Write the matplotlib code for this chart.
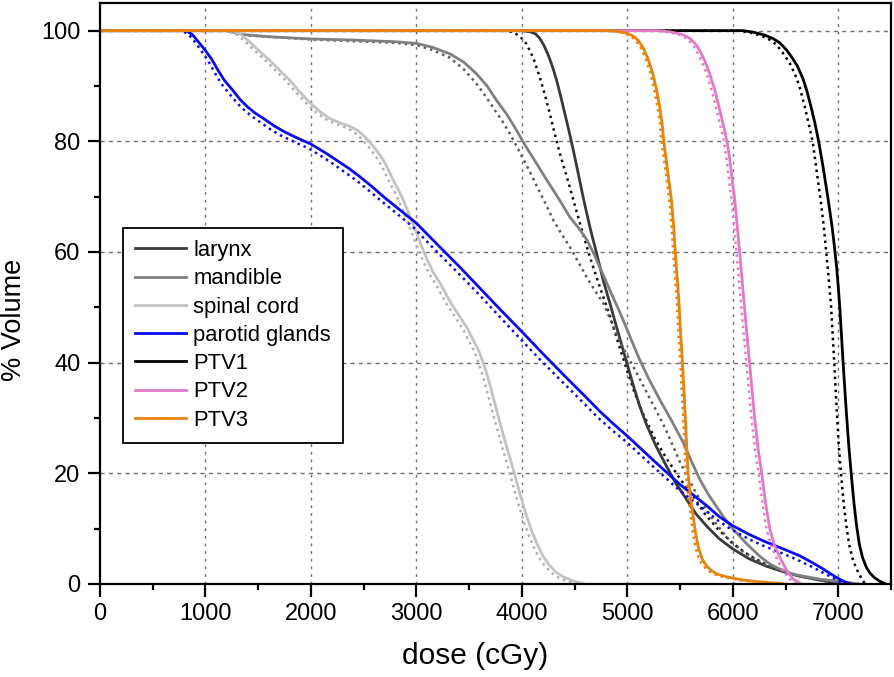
import matplotlib
matplotlib.use("Agg")
import matplotlib.pyplot as plt
from matplotlib.ticker import MultipleLocator

plt.rcParams['font.family'] = ['Liberation Sans', 'DejaVu Sans']

# dose (cGy) / % volume; solid = plan A, dotted = plan B
larynx_x = [0, 4000, 4080, 4130, 4170, 4210, 4250, 4290, 4330, 4370, 4410, 4450, 4490, 4530,
            4581, 4645, 4708, 4771, 4834, 4897, 4960, 5010, 5055, 5120, 5182, 5270, 5371,
            5460, 5561, 5650, 5750, 5870, 6003, 6150, 6319, 6480, 6635, 6800, 6950, 7100]
larynx_y = [100, 100, 99.8, 99.4, 98.6, 97.3, 95.6, 93.5, 91, 88, 84.8, 81.6, 78.2, 74.6,
            69.9, 64.5, 59.8, 54.9, 50.8, 46.5, 42.3, 39, 36, 32, 28.8, 25, 21.3,
            18.2, 15.3, 12.7, 10.5, 8.2, 6.3, 4.6, 3.2, 2.2, 1.4, 0.8, 0.3, 0]
larynx_x2 = [0, 3850, 3920, 3980, 4044, 4110, 4171, 4220, 4265, 4310, 4360, 4410, 4455, 4500,
             4550, 4645, 4739, 4834, 4910, 4992, 5070, 5150, 5260, 5371, 5500, 5624, 5730,
             5845, 6000, 6161, 6320, 6477, 6640, 6800, 6950, 7050]
larynx_y2 = [100, 100, 99.7, 99, 97.6, 95, 91.5, 88.3, 85, 81.5, 77.8, 74.6, 71.7, 68.6,
             65.2, 59.1, 53.7, 48.5, 43.8, 38.9, 34.5, 30.7, 26.3, 22.7, 19, 15.9, 12.8,
             10.2, 7.3, 5.1, 3.5, 2.3, 1.4, 0.8, 0.3, 0]

mandible_x = [0, 1200, 1350, 1600, 2000, 2400, 2800, 3000, 3150, 3318, 3450, 3570, 3670, 3760,
              3860, 3949, 4040, 4139, 4220, 4297, 4380, 4455, 4540, 4613, 4680, 4740, 4800,
              4860, 4920, 4976, 5040, 5118, 5200, 5308, 5420, 5529, 5610, 5687, 5765, 5845,
              5925, 6003, 6130, 6256, 6360, 6477, 6590, 6700, 6850, 7000, 7200]
mandible_y = [100, 100, 99.3, 98.9, 98.5, 98.3, 98.0, 97.7, 97.0, 95.8, 94.3, 92.2, 90, 87.4,
              84.8, 82, 79, 76, 73.5, 71.2, 68.7, 66.3, 64.3, 62.3, 59.8, 57.2, 54.6,
              52, 49.5, 47, 44, 40.5, 37.2, 33.3, 29.5, 25.6, 22.1, 18.9, 16.3, 14,
              11.8, 9.9, 7.3, 5, 3.5, 2.4, 1.7, 1.3, 0.8, 0.5, 0]
mandible_x2 = [0, 1200, 1350, 2000, 2800, 3000, 3150, 3318, 3450, 3570, 3650, 3728, 3810, 3886,
               3981, 4076, 4139, 4220, 4297, 4375, 4455, 4535, 4613, 4690, 4771, 4835, 4900,
               4975, 5050, 5125, 5200, 5275, 5350, 5425, 5500, 5575, 5650, 5725, 5800, 5875,
               5950, 6100, 6300, 6550, 6800, 7100]
mandible_y2 = [100, 100, 99.2, 98.4, 97.8, 97.4, 96.5, 95.1, 93, 90.4, 88.3, 86.1, 83.8, 81.4,
               78, 74.5, 72, 68.9, 65.8, 63.3, 60.9, 58.2, 55.5, 53.1, 50.8, 48, 45,
               42.2, 39.5, 36.8, 34, 31.3, 28.5, 25.3, 22, 19.2, 16.5, 14.2, 12, 10.1,
               8.3, 5.8, 3.5, 1.8, 0.8, 0]

spinal_x = [0, 1250, 1320, 1400, 1500, 1611, 1700, 1801, 1900, 2000, 2090, 2180, 2280, 2370,
            2440, 2496, 2550, 2600, 2650, 2686, 2730, 2780, 2830, 2875, 2940, 3002, 3050,
            3100, 3160, 3223, 3320, 3412, 3480, 3538, 3590, 3633, 3680, 3730, 3791, 3850,
            3918, 3980, 4044, 4100, 4150, 4202, 4260, 4320, 4392, 4480, 4600]
spinal_y = [100, 100, 99.5, 98.3, 96.5, 94.6, 92.9, 91, 88.8, 86.8, 85.3, 84.1, 83.3, 82.7,
            82, 81.1, 80, 78.9, 77.6, 76.6, 75, 73, 71.2, 69.4, 66.4, 63.4, 61,
            58.7, 56.3, 54.4, 51, 48.3, 46.3, 44.1, 42.2, 40, 37.2, 33.6, 29.2, 25.2,
            20.7, 16.4, 12.3, 9.2, 7, 5, 3.4, 2.2, 1.3, 0.6, 0]
spinal_x2 = [0, 1200, 1280, 1360, 1460, 1570, 1660, 1760, 1860, 1960, 2050, 2140, 2240, 2330,
             2400, 2456, 2510, 2560, 2610, 2646, 2690, 2740, 2790, 2835, 2900, 2962, 3010,
             3060, 3120, 3183, 3280, 3372, 3440, 3498, 3550, 3593, 3640, 3690, 3751, 3810,
             3878, 3940, 4004, 4060, 4110, 4162, 4220, 4280, 4352, 4440, 4560]
spinal_y2 = [100, 100, 99.5, 98.3, 96.5, 94.6, 92.9, 91, 88.8, 86.8, 85.2, 84, 83.1, 82.5,
             81.8, 80.9, 79.8, 78.7, 77.4, 76.4, 74.8, 72.8, 71, 69.2, 66.2, 63.2, 60.8,
             58.5, 56.1, 54.2, 50.8, 48.1, 46.1, 43.9, 42, 39.8, 37, 33.4, 29, 25,
             20.5, 16.2, 12.1, 9, 6.8, 4.8, 3.2, 2, 1.1, 0.4, 0]

parotid_x = [0, 820, 880, 940, 1000, 1060, 1120, 1180, 1260, 1330, 1400, 1470, 1545, 1650,
             1750, 1870, 2000, 2130, 2250, 2360, 2464, 2580, 2700, 2850, 3000, 3191, 3400,
             3600, 3800, 4000, 4200, 4400, 4600, 4739, 4870, 5002, 5250, 5498, 5750, 5870,
             5994, 6150, 6300, 6470, 6635, 6750, 6850, 6930, 7000, 7060, 7120]
parotid_y = [100, 100, 99.2, 97.8, 96.4, 94.8, 92.8, 91, 89.2, 87.5, 86.2, 85.1, 84.2, 82.8,
             81.7, 80.6, 79.5, 78, 76.5, 75.1, 73.6, 71.8, 69.8, 67.5, 65.2, 61.5, 57.5,
             53.5, 49.5, 45.6, 41.6, 37.7, 33.9, 31.2, 28.9, 26.7, 22.3, 18.0, 14.2, 12.2,
             10.6, 9.0, 7.7, 6.4, 5.1, 3.9, 2.8, 1.8, 1.0, 0.4, 0]
parotid_x2 = [0, 780, 845, 910, 970, 1030, 1090, 1150, 1230, 1300, 1370, 1440, 1515, 1620,
              1720, 1840, 1970, 2100, 2220, 2330, 2440, 2555, 2680, 2830, 2980, 3170, 3380,
              3580, 3780, 3980, 4180, 4380, 4580, 4720, 4855, 4990, 5240, 5490, 5740, 5865,
              5990, 6145, 6290, 6460, 6620, 6740, 6840, 6920, 6990, 7040, 7090]
parotid_y2 = [100, 100, 99.2, 97.7, 96.1, 94.4, 92.3, 90.4, 88.5, 86.9, 85.6, 84.5, 83.5, 82.1,
              81, 79.9, 78.8, 77.3, 75.8, 74.3, 72.8, 71, 69, 66.7, 64.3, 60.5, 56.5,
              52.6, 48.5, 44.4, 40.4, 36.6, 32.8, 30.1, 27.8, 25.7, 21.3, 17, 13.3, 11.4,
              9.8, 8.2, 6.9, 5.6, 4.3, 3.2, 2.2, 1.4, 0.7, 0.2, 0]

ptv1_x = [0, 6100, 6200, 6300, 6380, 6445, 6510, 6556, 6610, 6666, 6698, 6740, 6780, 6815,
          6856, 6902, 6940, 6965, 6985, 7000, 7014, 7030, 7046, 7077, 7100, 7125, 7150,
          7172, 7200, 7230, 7267, 7300, 7340, 7393, 7450]
ptv1_y = [100, 100, 99.7, 99.2, 98.6, 97.8, 96.5, 95.3, 93.7, 91.3, 89.4, 86.4, 83.2, 79.9,
          75.4, 69.8, 64.8, 60.8, 57.2, 53.8, 50.2, 45.2, 40, 31, 25, 19.5, 14.5,
          10.8, 7.2, 4.8, 3.0, 2.0, 1.2, 0.5, 0]
ptv1_x2 = [0, 6050, 6150, 6250, 6330, 6393, 6455, 6500, 6553, 6608, 6640, 6681, 6720, 6758,
           6790, 6830, 6862, 6882, 6900, 6916, 6932, 6947, 6962, 6987, 7005, 7028, 7052,
           7075, 7103, 7132, 7168, 7192, 7215, 7235, 7260]
ptv1_y2 = ptv1_y

ptv2_x = [0, 5300, 5400, 5480, 5550, 5600, 5650, 5687, 5735, 5782, 5830, 5877, 5910, 5943,
          5970, 5991, 6019, 6042, 6066, 6090, 6114, 6137, 6161, 6185, 6209, 6240, 6275,
          6310, 6351, 6395, 6445, 6510, 6572, 6650]
ptv2_y = [100, 100, 99.8, 99.5, 99.1, 98.5, 97.5, 96.4, 94.5, 92.2, 89.2, 85.6, 83, 80.2,
          77, 73.5, 69.4, 64.7, 59.8, 54.6, 49.4, 44.5, 39.6, 34.6, 29.7, 24.5, 19.9,
          14.8, 10, 7, 4.9, 2.5, 0.9, 0]
ptv2_x2 = [0, 5250, 5360, 5445, 5515, 5567, 5618, 5655, 5704, 5752, 5800, 5847, 5880, 5913,
           5940, 5961, 5989, 6012, 6036, 6060, 6084, 6107, 6131, 6155, 6179, 6210, 6245,
           6280, 6320, 6362, 6410, 6475, 6537, 6615]
ptv2_y2 = ptv2_y

ptv3_x = [0, 4800, 4900, 4980, 5050, 5100, 5147, 5195, 5242, 5278, 5308, 5330, 5346, 5370,
          5395, 5418, 5440, 5455, 5472, 5488, 5505, 5523, 5537, 5550, 5563, 5576, 5600,
          5624, 5645, 5671, 5710, 5750, 5800, 5850, 5940, 6100, 6256, 6500]
ptv3_y = [100, 100, 99.9, 99.6, 99.1, 98.3, 97, 95, 92.2, 89.3, 86.1, 83.2, 80, 76.5,
          72.8, 69.4, 64.5, 60, 55.5, 51.4, 45.5, 40, 35, 30, 25, 20, 15.5,
          12.3, 9.5, 6.8, 4.5, 3.3, 2.4, 1.8, 1.3, 0.7, 0.4, 0]
ptv3_x2 = [0, 4750, 4870, 4955, 5025, 5077, 5125, 5173, 5220, 5256, 5287, 5309, 5325, 5350,
           5375, 5398, 5420, 5435, 5452, 5468, 5485, 5503, 5517, 5530, 5543, 5556, 5579,
           5601, 5620, 5644, 5680, 5718, 5768, 5818, 5905, 6065, 6220, 6460]
ptv3_y2 = ptv3_y

fig = plt.figure(figsize=(8.94, 6.77), dpi=100)
ax = fig.add_axes([0.1119, 0.1374, 0.8847, 0.8582])

dot = (0, (1, 1.6))
curves = [
    ("larynx", larynx_x, larynx_y, larynx_x2, larynx_y2, "#3a3a3a", "#111111"),
    ("mandible", mandible_x, mandible_y, mandible_x2, mandible_y2, "#808080", "#5a5a5a"),
    ("spinal cord", spinal_x, spinal_y, spinal_x2, spinal_y2, "#c3c3c3", "#b0b0b0"),
    ("parotid glands", parotid_x, parotid_y, parotid_x2, parotid_y2, "#0a0af0", "#0a0af0"),
    ("PTV1", ptv1_x, ptv1_y, ptv1_x2, ptv1_y2, "#000000", "#000000"),
    ("PTV2", ptv2_x, ptv2_y, ptv2_x2, ptv2_y2, "#e27ac6", "#e27ac6"),
    ("PTV3", ptv3_x, ptv3_y, ptv3_x2, ptv3_y2, "#e8830c", "#e8830c"),
]
for name, x, y, x2, y2, c, c2 in curves:
    ax.plot(x2, y2, color=c2, lw=1.8, ls=dot)
    ax.plot(x, y, color=c, lw=2.0, label=name)

ax.set_xlim(0, 7500)
ax.set_ylim(0, 105)
ax.xaxis.set_major_locator(MultipleLocator(1000))
ax.xaxis.set_minor_locator(MultipleLocator(500))
ax.yaxis.set_major_locator(MultipleLocator(20))
ax.yaxis.set_minor_locator(MultipleLocator(10))

# grid
for gx in range(1000, 7500, 1000):
    ax.axvline(gx, color="#707070", lw=1, ls=(0, (2, 3.5)), zorder=0)
for gy in range(20, 105, 20):
    ax.axhline(gy, color="#707070", lw=1, ls=(0, (3, 3)), zorder=0)

for s in ax.spines.values():
    s.set_linewidth(1.6)
ax.tick_params(which="major", direction="out", length=9, width=1.6, labelsize=17, pad=5)
ax.tick_params(which="minor", direction="out", length=4.5, width=1.6)

ax.set_xlabel("dose (cGy)", fontsize=21.5)
ax.set_ylabel("% Volume", fontsize=19.5)
ax.xaxis.set_label_coords(0.474, -0.1)
ax.yaxis.set_label_coords(-0.092, 0.454)

leg = ax.legend(loc="upper left", bbox_to_anchor=(0.029, 0.6127), borderaxespad=0,
                fontsize=15.8, frameon=True, fancybox=False, framealpha=1,
                edgecolor="black", handlelength=2.3, handletextpad=0.35,
                labelspacing=0.33, borderpad=0.55)
leg.get_frame().set_linewidth(1.3)

fig.savefig("out.png", dpi=100)
